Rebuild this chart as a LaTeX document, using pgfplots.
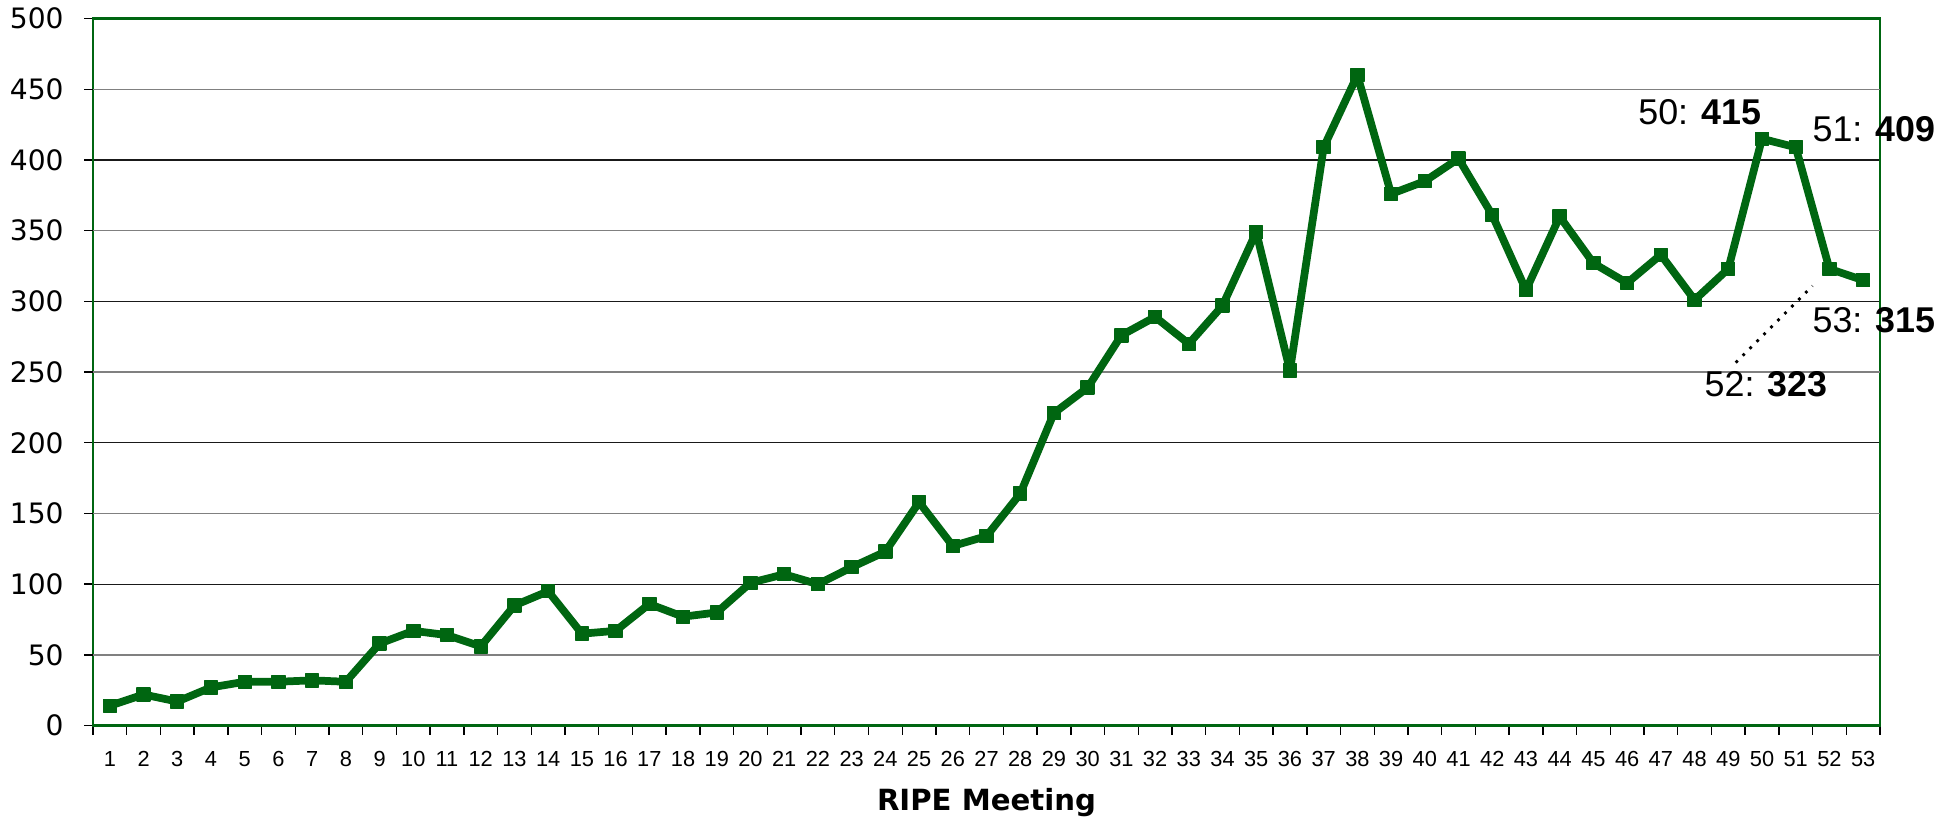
\documentclass[border=0pt]{standalone}
\usepackage{fontspec}
\setmainfont{DejaVu Sans}
\newfontfamily\arialf{Liberation Sans}
\usepackage{pgfplots}
\pgfplotsset{compat=1.18}
\definecolor{lgreen}{RGB}{0,102,17}
\pgfplotstableread{
x y
1 14
2 22
3 17
4 27
5 31
6 31
7 32
8 31
9 58
10 67
11 64
12 56
13 85
14 95
15 65
16 67
17 86
18 77
19 80
20 101
21 107
22 100
23 112
24 123
25 158
26 127
27 134
28 164
29 221
30 239
31 276
32 289
33 270
34 297
35 349
36 251
37 409
38 460
39 376
40 385
41 401
42 361
43 308
44 360
45 327
46 313
47 333
48 301
49 323
50 415
51 409
52 323
53 315
}\datatable
\begin{document}
\begin{tikzpicture}
\begin{axis}[
  scale only axis, width=178.7mm, height=70.7mm,
  at={(0,0)}, anchor=south west,
  xmin=0.5, xmax=53.5, ymin=0, ymax=500,
  ytick={0,100,200,300,400,500},
  ymajorgrids,
  grid style={black!90, line width=0.35pt},
  axis line style={lgreen, line width=0.8pt},
  tick style={black, line width=0.4pt},
  tick align=outside,
  xtick pos=bottom, ytick pos=left,
  major tick length=0.9mm,
  xtick={0.5,1.5,...,53.5}, xticklabels={},
  extra x ticks={1,...,53},
  extra x tick style={major tick length=0pt},
  extra y ticks={50,150,250,350,450},
  extra y tick style={grid style={black!50, line width=0.35pt}},
  /pgf/number format/assume math mode=true,
  yticklabel style={font=\fontsize{8}{9}\selectfont, xshift=-0.8mm},
  xticklabel style={font=\arialf\fontsize{6.2}{7}\selectfont, yshift=-1.37mm},
  xlabel={\textbf{RIPE Meeting}},
  xlabel style={font=\fontsize{8.3}{10}\selectfont, at={(axis description cs:0.5,-0.1198)}, anchor=base},
  clip=false,
]
\addplot[lgreen, line width=2.2pt, line join=round, mark=square*, mark size=1.85pt, mark options={solid, fill=lgreen, line width=0.4pt}] table[x=x,y=y] {\datatable};
\node[anchor=east, font=\arialf\fontsize{10.2}{12}\selectfont, inner sep=0pt] at (axis cs:50.0,434) {50: \textbf{415}};
\node[anchor=west, font=\arialf\fontsize{10.2}{12}\selectfont, inner sep=0pt] at (axis cs:51.48,422) {51: \textbf{409}};
\node[anchor=west, font=\arialf\fontsize{10.2}{12}\selectfont, inner sep=0pt] at (axis cs:51.48,287) {53: \textbf{315}};
\node[anchor=west, font=\arialf\fontsize{10.2}{12}\selectfont, inner sep=0pt] at (axis cs:48.28,241.5) {52: \textbf{323}};
\draw[black, dotted, line width=0.8pt] (axis cs:49.22,256.7) -- (axis cs:51.5,311);
\end{axis}
\pgfresetboundingbox
\path[use as bounding box] (-9.3mm,-9.3mm) rectangle (184.7mm,72.56mm);
\end{tikzpicture}
\end{document}
